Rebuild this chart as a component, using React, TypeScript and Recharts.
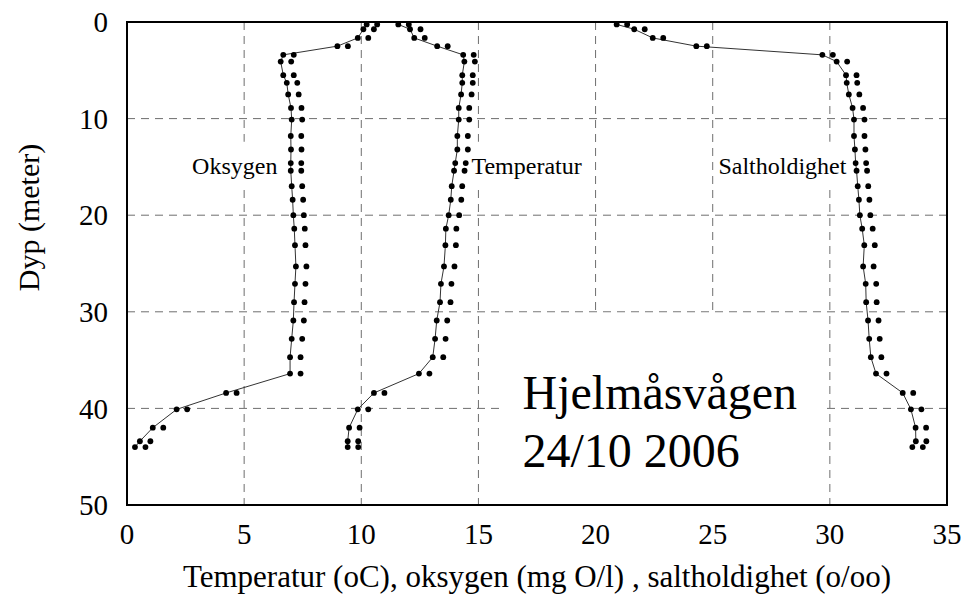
import React from 'react';
import { ScatterChart, Scatter, XAxis, YAxis, CartesianGrid, ReferenceArea } from 'recharts';

const depths = [0.25, 0.75, 1.65, 2.5, 3.4, 4.1, 5.5, 6.3, 7.5, 8.9, 10.1, 11.8, 13.2, 14.6, 15.4, 17, 18.4, 20, 21.4, 23.1, 25.3, 27.1, 29, 30.9, 32.8, 34.7, 36.4, 38.4, 40.1, 42, 43.4, 44];
const oksygen = [10.23, 10.09, 9.85, 8.98, 6.67, 6.56, 6.67, 6.82, 6.88, 7.0, 7.03, 6.99, 7.0, 6.99, 6.99, 7.03, 7.07, 7.1, 7.14, 7.17, 7.21, 7.17, 7.13, 7.1, 7.03, 6.96, 6.96, 4.23, 2.12, 1.1, 0.55, 0.34];
const temperatur = [11.58, 12.08, 12.26, 13.24, 14.35, 14.4, 14.31, 14.31, 14.26, 14.16, 14.16, 14.1, 14.1, 14.01, 13.96, 13.86, 13.82, 13.73, 13.61, 13.59, 13.53, 13.4, 13.36, 13.22, 13.15, 13.05, 12.46, 10.54, 9.85, 9.48, 9.42, 9.42];
const saltholdighet = [20.9, 21.65, 22.44, 24.3, 29.68, 30.29, 30.69, 30.72, 30.81, 30.97, 31.03, 31.03, 31.07, 31.1, 31.14, 31.19, 31.24, 31.28, 31.38, 31.47, 31.42, 31.53, 31.55, 31.63, 31.68, 31.75, 31.97, 33.11, 33.46, 33.66, 33.67, 33.52];
const xTicks = [0, 5, 10, 15, 20, 25, 30, 35];
const yTicks = [0, 10, 20, 30, 40, 50];
const xTitle = 'Temperatur (oC), oksygen (mg O/l) , saltholdighet (o/oo)';
const yTitle = 'Dyp (meter)';
const seriesNames = ['Oksygen', 'Temperatur', 'Saltholdighet'];
const placeName = 'Hjelmåsvågen';
const dateText = '24/10 2006';

const toPoints = (vals: number[]) => vals.map((v, i) => ({ x: v, y: depths[i] }));
const oxyData = toPoints(oksygen);
const tempData = toPoints(temperatur);
const saltData = toPoints(saltholdighet);

const FONT = '"Liberation Serif", "Times New Roman", serif';

const PairDot = (props: any) => {
  const { cx, cy } = props;
  if (cx == null || cy == null) return null;
  return (
    <g>
      <circle cx={cx} cy={cy} r={2.9} fill="#000" />
      <circle cx={cx + 10.5} cy={cy} r={2.9} fill="#000" />
    </g>
  );
};

const BigText = (props: any) => {
  const vb = props.viewBox || {};
  return (
    <g>
      <text x={vb.x + 23} y={vb.y + 96} fontSize={48} fontFamily={FONT} fill="#000">{placeName}</text>
      <text x={vb.x + 23} y={vb.y + 154} fontSize={48} fontFamily={FONT} fill="#000">{dateText}</text>
    </g>
  );
};

const YTitle = (props: any) => {
  const vb = props.viewBox || {};
  const cx = vb.x + 28;
  const cy = vb.y + vb.height / 2 - 46;
  return (
    <text x={cx} y={cy} transform={`rotate(-90, ${cx}, ${cy})`} textAnchor="middle" dominantBaseline="central" fontSize={30} fontFamily={FONT} fill="#000">
      {yTitle}
    </text>
  );
};

const seriesLabel = (value: string) => ({ value, position: 'center' as const, fontSize: 24, fontFamily: FONT, fill: '#000' });

export default function App() {
  return (
    <div style={{ position: 'absolute', left: 0, top: 0, background: '#fff' }}>
      <ScatterChart width={963} height={602} margin={{ top: 22, right: 16, bottom: 0, left: 0 }}>
        <CartesianGrid stroke="#6e6e6e" strokeDasharray="8 6" strokeWidth={1} />
        <XAxis
          type="number"
          dataKey="x"
          domain={[0, 35]}
          ticks={xTicks}
          height={97}
          axisLine={{ stroke: '#000', strokeWidth: 2 }}
          tickLine={false}
          tickSize={6}
          tickMargin={12}
          tick={{ fill: '#000', fontSize: 29, fontFamily: FONT }}
          label={{ value: xTitle, position: 'insideBottom', offset: 15, fontSize: 31, fontFamily: FONT, fill: '#000' }}
        />
        <YAxis
          type="number"
          dataKey="y"
          domain={[0, 50]}
          ticks={yTicks}
          reversed
          width={127}
          axisLine={{ stroke: '#000', strokeWidth: 2 }}
          tickLine={false}
          tickSize={6}
          tickMargin={13}
          tick={{ fill: '#000', fontSize: 29, fontFamily: FONT }}
          label={YTitle}
        />
        <ReferenceArea x1={2.6} x2={6.6} y1={12.4} y2={17.4} fill="#fff" fillOpacity={1} stroke="none" label={seriesLabel(seriesNames[0])} />
        <ReferenceArea x1={14.51} x2={19.6} y1={12.4} y2={17.4} fill="#fff" fillOpacity={1} stroke="none" label={seriesLabel(seriesNames[1])} />
        <ReferenceArea x1={25.05} x2={30.9} y1={12.4} y2={17.4} fill="#fff" fillOpacity={1} stroke="none" label={seriesLabel(seriesNames[2])} />
        <ReferenceArea x1={15.9} x2={29.85} y1={30.1} y2={50} fill="#fff" fillOpacity={1} stroke="none" label={BigText} />
        <ReferenceArea x1={0} x2={35} y1={0} y2={50} fill="none" stroke="#000" strokeWidth={2} />
        <Scatter data={oxyData} isAnimationActive={false} line={{ stroke: '#333', strokeWidth: 1 }} lineJointType="linear" shape={PairDot} />
        <Scatter data={tempData} isAnimationActive={false} line={{ stroke: '#333', strokeWidth: 1 }} lineJointType="linear" shape={PairDot} />
        <Scatter data={saltData} isAnimationActive={false} line={{ stroke: '#333', strokeWidth: 1 }} lineJointType="linear" shape={PairDot} />
      </ScatterChart>
    </div>
  );
}
